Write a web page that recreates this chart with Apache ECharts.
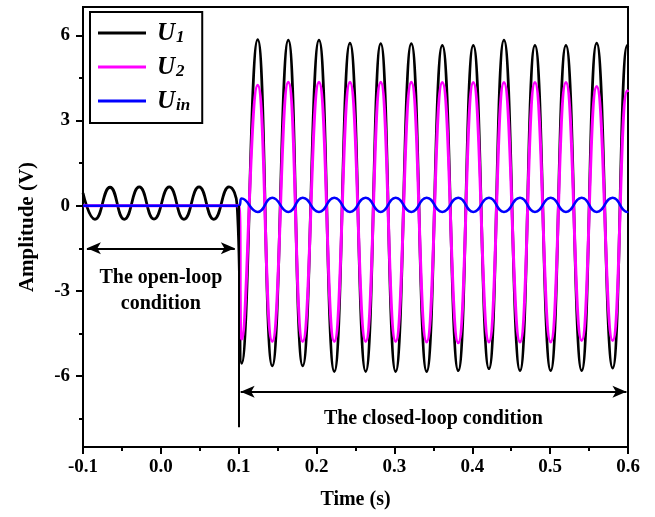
<!DOCTYPE html>
<html>
<head>
<meta charset="utf-8">
<script src="https://cdn.jsdelivr.net/npm/echarts@6/dist/echarts.min.js"></script>
<style>
html, body { margin: 0; padding: 0; background: #fff; }
#main { width: 655px; height: 517px; }
</style>
</head>
<body>
<div id="main"></div>
<script>
const openTime = [-0.1, -0.0846, -0.0653, -0.047, -0.0277, -0.0088, 0.0108, 0.0297, 0.049, 0.068, 0.0875, 0.098];
const u1Open = [0.45, -0.48, 0.65, -0.48, 0.66, -0.47, 0.66, -0.48, 0.66, -0.48, 0.66, 0.0];
const flatTime = [-0.1, 0.1];
const u2Open = [0, 0];
const uinOpen = [0, 0];

// closed-loop part (t >= 0.1 s)
const closedTime = [0.1038, 0.1244, 0.1431, 0.1637, 0.1822, 0.2031, 0.2228, 0.2429, 0.2631, 0.2824,
	0.3016, 0.3217, 0.3414, 0.3615, 0.382, 0.4013, 0.4214, 0.4407, 0.4613, 0.4805,
	0.5007, 0.5203, 0.5405, 0.5598, 0.5803, 0.5991, 0.6];
const u1Closed = [-5.55, 5.85, -5.64, 5.83, -5.64, 5.83, -5.84, 5.73, -5.84, 5.71,
	-5.84, 5.71, -5.84, 5.65, -5.81, 5.65, -5.74, 5.83, -5.81, 5.65,
	-5.81, 5.65, -5.81, 5.73, -5.72, 5.65, 5.6];
const u2Closed = [-4.7, 4.24, -4.78, 4.35, -4.78, 4.35, -4.78, 4.35, -4.78, 4.35,
	-4.78, 4.35, -4.8, 4.34, -4.83, 4.34, -4.8, 4.34, -4.8, 4.34,
	-4.8, 4.34, -4.75, 4.2, -4.75, 4.05, 4.0];
const uinClosed = [0.25, -0.22, 0.28, -0.22, 0.28, -0.22, 0.28, -0.22, 0.28, -0.22,
	0.28, -0.22, 0.28, -0.22, 0.28, -0.22, 0.28, -0.22, 0.28, -0.22,
	0.28, -0.22, 0.28, -0.22, 0.28, -0.22, -0.2];

const yMajor = [-6, -3, 0, 3, 6];
const yMinor = [-7.5, -4.5, -1.5, 1.5, 4.5];

// annotations (data coords)
const switchLine = [[0.1, 0], [0.1, -7.8]];
const openArrow = [[-0.095, -1.5], [0.095, -1.5]];
const closedArrow = [[0.1025, -6.55], [0.598, -6.55]];

const font = "Liberation Serif";

function pairs(t, v){
	const out = [];
	for(let i = 0; i < t.length; i++){
		out.push([t[i], v[i]]);
	}
	return out;
}

const u1Data = pairs(openTime, u1Open).concat(pairs(closedTime, u1Closed));
const u2Data = pairs(flatTime, u2Open).concat(pairs(closedTime, u2Closed));
const uinData = pairs(flatTime, uinOpen).concat(pairs(closedTime, uinClosed));

const legendText = {U1: "{m|U}{s|1}", U2: "{m|U}{s|2}", Uin: "{m|U}{s|in}"};

var mychart = echarts.init(document.getElementById("main"));

function arrowLine(seg){
	return [{coord: seg[0]}, {coord: seg[1]}];
}

const option = {
	animation: false,
	textStyle: {fontFamily: font},
	grid: {left: 83, right: 27, top: 7, bottom: 70, show: true, borderColor: "#000", borderWidth: 2},
	legend: {
		orient: "vertical", left: 90, top: 12,
		padding: [9, 12, 9, 8],
		borderColor: "#000", borderWidth: 2,
		itemWidth: 48, itemHeight: 3, itemGap: 9,
		icon: "rect",
		data: ["U1", "U2", "Uin"],
		formatter: function(name){ return legendText[name]; },
		textStyle: {
			rich: {
				m: {fontFamily: font, fontSize: 25, fontWeight: "bold", fontStyle: "italic", color: "#000", verticalAlign: "bottom", padding: [0, 0, 0, 6]},
				s: {fontFamily: font, fontSize: 17, fontWeight: "bold", fontStyle: "italic", color: "#000", verticalAlign: "bottom", padding: [9, 0, 0, 1]}
			}
		}
	},
	xAxis: {
		type: "value", min: -0.1, max: 0.6, interval: 0.1,
		name: "Time (s)", nameLocation: "middle", nameGap: 43,
		nameTextStyle: {fontFamily: font, fontSize: 20, fontWeight: "bold", color: "#000"},
		axisLine: {onZero: false, lineStyle: {color: "#000", width: 2}},
		axisTick: {length: 7, lineStyle: {color: "#000", width: 2}},
		minorTick: {show: true, splitNumber: 2, length: 4, lineStyle: {color: "#000", width: 2}},
		axisLabel: {fontFamily: font, fontSize: 19, fontWeight: "bold", color: "#000", margin: 11,
			formatter: function(v){ return v.toFixed(1); }},
		splitLine: {show: false}
	},
	yAxis: [{
		type: "value", min: -8.5, max: 7,
		name: "Amplitude (V)", nameLocation: "middle", nameGap: 45,
		nameTextStyle: {fontFamily: font, fontSize: 21, fontWeight: "bold", color: "#000"},
		axisLine: {onZero: false, lineStyle: {color: "#000", width: 2}},
		axisTick: {length: 7, customValues: yMajor, lineStyle: {color: "#000", width: 2}},
		axisLabel: {customValues: yMajor, fontFamily: font, fontSize: 19, fontWeight: "bold", color: "#000", margin: 13},
		splitLine: {show: false}
	}, {
		type: "value", min: -8.5, max: 7, position: "left",
		axisLine: {show: false, onZero: false},
		axisTick: {length: 4, customValues: yMinor, lineStyle: {color: "#000", width: 2}},
		axisLabel: {show: false},
		splitLine: {show: false}
	}],
	series: [{
		name: "U1", type: "line", data: u1Data, smooth: 0.5, showSymbol: false,
		lineStyle: {color: "#000", width: 2.8}, itemStyle: {color: "#000"},
		markLine: {
			silent: true, symbol: ["none", "none"],
			lineStyle: {color: "#000", width: 2, type: "solid"},
			label: {show: false},
			data: [arrowLine(switchLine)]
		}
	}, {
		name: "U2", type: "line", data: u2Data, smooth: 0.5, showSymbol: false,
		lineStyle: {color: "#ff00ff", width: 3}, itemStyle: {color: "#ff00ff"}
	}, {
		name: "Uin", type: "line", data: uinData, smooth: 0.5, showSymbol: false,
		lineStyle: {color: "#0000ff", width: 2.5}, itemStyle: {color: "#0000ff"},
		markLine: {
			silent: true, symbol: ["arrow", "arrow"], symbolSize: [9, 14],
			lineStyle: {color: "#000", width: 2, type: "solid"},
			itemStyle: {color: "#000"},
			label: {show: false},
			data: [arrowLine(openArrow), arrowLine(closedArrow)]
		}
	}]
};
mychart.setOption(option);

// text notes placed through the axes
const p1 = mychart.convertToPixel({gridIndex: 0}, [0.0, -2.55]);
const p2 = mychart.convertToPixel({gridIndex: 0}, [0.0, -3.45]);
const p3 = mychart.convertToPixel({gridIndex: 0}, [0.35, -7.52]);
const noteStyle = {fontFamily: font, fontSize: 20, fontWeight: "bold", fill: "#000", align: "center", verticalAlign: "middle"};
mychart.setOption({
	graphic: [
		{type: "text", x: p1[0], y: p1[1], style: Object.assign({text: "The open-loop"}, noteStyle)},
		{type: "text", x: p2[0], y: p2[1], style: Object.assign({text: "condition"}, noteStyle)},
		{type: "text", x: p3[0], y: p3[1], style: Object.assign({text: "The closed-loop condition"}, noteStyle)}
	]
});
</script>
</body>
</html>
